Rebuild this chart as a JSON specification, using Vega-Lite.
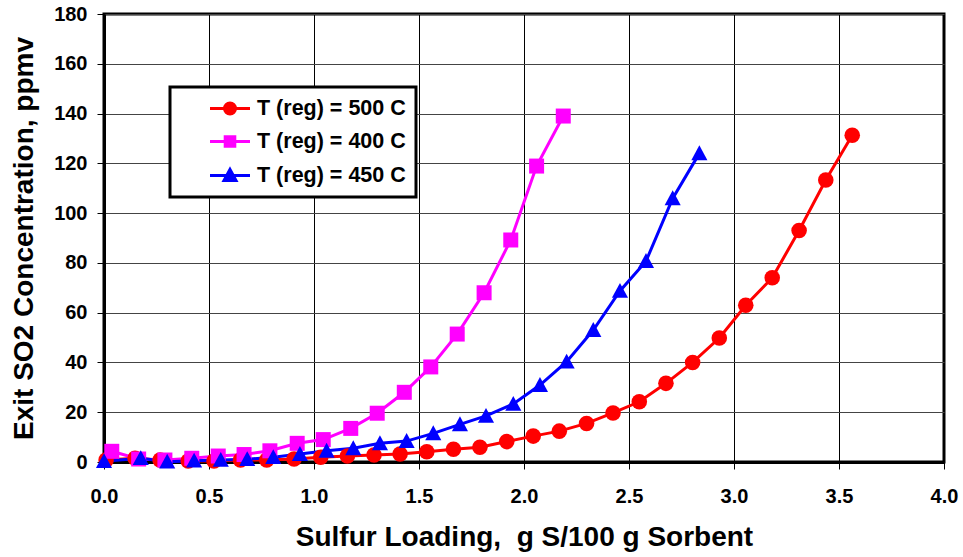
{
  "$schema": "https://vega.github.io/schema/vega-lite/v6.json",
  "width": 840,
  "height": 448,
  "autosize": "none",
  "padding": {"left": 104, "top": 14, "right": 19, "bottom": 95},
  "background": "white",
  "config": {"view": {"stroke": "black", "strokeWidth": 3}, "font": "Liberation Sans"},
  "datasets": {
    "pts": [
      {"s": "T (reg) = 500 C", "x": 0.01, "y": 0.8},
      {"s": "T (reg) = 500 C", "x": 0.148, "y": 1.5},
      {"s": "T (reg) = 500 C", "x": 0.267, "y": 0.8},
      {"s": "T (reg) = 500 C", "x": 0.401, "y": 0.4},
      {"s": "T (reg) = 500 C", "x": 0.524, "y": 0.4},
      {"s": "T (reg) = 500 C", "x": 0.65, "y": 0.8},
      {"s": "T (reg) = 500 C", "x": 0.775, "y": 0.8},
      {"s": "T (reg) = 500 C", "x": 0.905, "y": 1.2},
      {"s": "T (reg) = 500 C", "x": 1.032, "y": 1.9},
      {"s": "T (reg) = 500 C", "x": 1.159, "y": 2.4},
      {"s": "T (reg) = 500 C", "x": 1.286, "y": 2.8},
      {"s": "T (reg) = 500 C", "x": 1.41, "y": 3.2},
      {"s": "T (reg) = 500 C", "x": 1.537, "y": 4.1},
      {"s": "T (reg) = 500 C", "x": 1.664, "y": 5.1},
      {"s": "T (reg) = 500 C", "x": 1.79, "y": 5.9},
      {"s": "T (reg) = 500 C", "x": 1.918, "y": 8.2},
      {"s": "T (reg) = 500 C", "x": 2.044, "y": 10.4},
      {"s": "T (reg) = 500 C", "x": 2.168, "y": 12.4},
      {"s": "T (reg) = 500 C", "x": 2.298, "y": 15.5},
      {"s": "T (reg) = 500 C", "x": 2.424, "y": 19.7},
      {"s": "T (reg) = 500 C", "x": 2.549, "y": 24.2},
      {"s": "T (reg) = 500 C", "x": 2.676, "y": 31.6},
      {"s": "T (reg) = 500 C", "x": 2.803, "y": 40},
      {"s": "T (reg) = 500 C", "x": 2.93, "y": 49.8},
      {"s": "T (reg) = 500 C", "x": 3.056, "y": 63},
      {"s": "T (reg) = 500 C", "x": 3.182, "y": 74},
      {"s": "T (reg) = 500 C", "x": 3.31, "y": 93},
      {"s": "T (reg) = 500 C", "x": 3.437, "y": 113.3},
      {"s": "T (reg) = 500 C", "x": 3.563, "y": 131.3},
      {"s": "T (reg) = 400 C", "x": 0.037, "y": 4.3},
      {"s": "T (reg) = 400 C", "x": 0.165, "y": 1.2},
      {"s": "T (reg) = 400 C", "x": 0.29, "y": 0.8},
      {"s": "T (reg) = 400 C", "x": 0.418, "y": 1.5},
      {"s": "T (reg) = 400 C", "x": 0.544, "y": 2.4},
      {"s": "T (reg) = 400 C", "x": 0.667, "y": 3.0},
      {"s": "T (reg) = 400 C", "x": 0.79, "y": 4.5},
      {"s": "T (reg) = 400 C", "x": 0.92, "y": 7.5},
      {"s": "T (reg) = 400 C", "x": 1.044, "y": 9.0},
      {"s": "T (reg) = 400 C", "x": 1.175, "y": 13.5},
      {"s": "T (reg) = 400 C", "x": 1.301, "y": 19.6},
      {"s": "T (reg) = 400 C", "x": 1.43, "y": 28},
      {"s": "T (reg) = 400 C", "x": 1.556, "y": 38.2},
      {"s": "T (reg) = 400 C", "x": 1.682, "y": 51.4},
      {"s": "T (reg) = 400 C", "x": 1.81, "y": 68},
      {"s": "T (reg) = 400 C", "x": 1.937, "y": 89.2},
      {"s": "T (reg) = 400 C", "x": 2.06, "y": 118.9},
      {"s": "T (reg) = 400 C", "x": 2.187, "y": 139},
      {"s": "T (reg) = 450 C", "x": 0.0, "y": 0.3},
      {"s": "T (reg) = 450 C", "x": 0.175, "y": 1.5},
      {"s": "T (reg) = 450 C", "x": 0.301, "y": 0.1},
      {"s": "T (reg) = 450 C", "x": 0.429, "y": 0.5},
      {"s": "T (reg) = 450 C", "x": 0.556, "y": 0.8},
      {"s": "T (reg) = 450 C", "x": 0.682, "y": 1.1},
      {"s": "T (reg) = 450 C", "x": 0.806, "y": 1.9},
      {"s": "T (reg) = 450 C", "x": 0.933, "y": 3.2},
      {"s": "T (reg) = 450 C", "x": 1.06, "y": 4.5},
      {"s": "T (reg) = 450 C", "x": 1.187, "y": 5.5},
      {"s": "T (reg) = 450 C", "x": 1.314, "y": 7.5},
      {"s": "T (reg) = 450 C", "x": 1.441, "y": 8.4},
      {"s": "T (reg) = 450 C", "x": 1.568, "y": 11.5},
      {"s": "T (reg) = 450 C", "x": 1.695, "y": 15.1},
      {"s": "T (reg) = 450 C", "x": 1.819, "y": 18.5},
      {"s": "T (reg) = 450 C", "x": 1.949, "y": 23.3},
      {"s": "T (reg) = 450 C", "x": 2.076, "y": 30.9},
      {"s": "T (reg) = 450 C", "x": 2.203, "y": 40.3},
      {"s": "T (reg) = 450 C", "x": 2.33, "y": 53},
      {"s": "T (reg) = 450 C", "x": 2.457, "y": 68.7},
      {"s": "T (reg) = 450 C", "x": 2.581, "y": 80.7},
      {"s": "T (reg) = 450 C", "x": 2.708, "y": 105.9},
      {"s": "T (reg) = 450 C", "x": 2.835, "y": 124}
    ]
  },
  "data": {"name": "pts"},
  "encoding": {
    "x": {
      "field": "x", "type": "quantitative",
      "scale": {"domain": [0, 4], "nice": false, "zero": false},
      "axis": {
        "values": [0, 0.5, 1, 1.5, 2, 2.5, 3, 3.5, 4],
        "format": ".1f",
        "title": "Sulfur Loading,\u00a0 g S/100 g Sorbent",
        "grid": true, "gridColor": "#000000", "gridWidth": 1, "gridOpacity": 1,
        "domainColor": "black", "domainWidth": 3,
        "tickColor": "black", "tickSize": 7, "tickWidth": 1,
        "labelFont": "Liberation Sans", "labelFontSize": 20, "labelFontWeight": "bold", "labelColor": "black",
        "labelBaseline": "alphabetic", "labelPadding": 33, "labelFlush": false, "labelOverlap": false,
        "titleFont": "Liberation Sans", "titleFontSize": 28, "titleFontWeight": "bold", "titleColor": "black",
        "titleBaseline": "alphabetic", "titleY": 83, "titleX": 420, "titleAlign": "center"
      }
    },
    "y": {
      "field": "y", "type": "quantitative",
      "scale": {"domain": [0, 180], "nice": false},
      "axis": {
        "values": [0, 20, 40, 60, 80, 100, 120, 140, 160, 180],
        "title": "Exit SO2 Concentration, ppmv",
        "grid": true, "gridColor": "#444444", "gridWidth": 1, "gridOpacity": 1,
        "domainColor": "black", "domainWidth": 3,
        "tickColor": "black", "tickSize": 7, "tickWidth": 1,
        "labelFont": "Liberation Sans", "labelFontSize": 20, "labelFontWeight": "bold", "labelColor": "black",
        "labelPadding": 10, "labelFlush": false, "labelOverlap": false,
        "titleFont": "Liberation Sans", "titleFontSize": 28, "titleFontWeight": "bold", "titleColor": "black",
        "titleBaseline": "alphabetic", "titleX": -72, "titleY": 224, "titleAlign": "center", "titleAngle": -90
      }
    },
    "color": {
      "field": "s", "type": "nominal",
      "scale": {"domain": ["T (reg) = 500 C", "T (reg) = 400 C", "T (reg) = 450 C"], "range": ["#ff0000", "#ff00ff", "#0000ff"]},
      "legend": {
        "title": null, "orient": "none", "legendX": 66, "legendY": 73,
        "padding": 10, "rowPadding": 10,
        "labelFont": "Liberation Sans", "labelFontSize": 21.5, "labelFontWeight": "bold", "labelColor": "black", "labelLimit": 400,
        "symbolSize": 400, "symbolOffset": 38.5, "labelOffset": 15.5, "symbolStrokeWidth": 3,
        "fillColor": "white", "strokeColor": "black",
        "encode": {
          "legend": {"update": {"strokeWidth": {"value": 3}}},
          "symbols": {"update": {
            "shape": {"signal": "datum.value === 'T (reg) = 500 C' ? 'M-2,0H2M0.55,0A0.55,0.55 0 1,1 -0.55,0A0.55,0.55 0 1,1 0.55,0Z' : datum.value === 'T (reg) = 400 C' ? 'M-2,0H2M-0.48,-0.48H0.48V0.48H-0.48Z' : 'M-2,0H2M0,-0.6L0.6,0.5H-0.6Z'"},
            "fill": {"signal": "datum.value === 'T (reg) = 500 C' ? '#ff0000' : datum.value === 'T (reg) = 400 C' ? '#ff00ff' : '#0000ff'"},
            "stroke": {"signal": "datum.value === 'T (reg) = 500 C' ? '#ff0000' : datum.value === 'T (reg) = 400 C' ? '#ff00ff' : '#0000ff'"},
            "strokeWidth": {"value": 3},
            "opacity": {"value": 1}
          }}
        }
      }
    }
  },
  "layer": [
    {"mark": {"type": "line", "strokeWidth": 3}, "encoding": {}},
    {
      "mark": {"type": "point", "filled": true, "opacity": 1},
      "encoding": {
        "shape": {"field": "s", "type": "nominal", "scale": {"domain": ["T (reg) = 400 C", "T (reg) = 450 C", "T (reg) = 500 C"], "range": ["square", "M0,-1L1,0.85H-1Z", "circle"]}, "legend": null},
        "size": {"field": "s", "type": "nominal", "scale": {"domain": ["T (reg) = 450 C", "T (reg) = 500 C", "T (reg) = 400 C"], "range": [260, 225, 160]}, "legend": null}
      }
    }
  ]
}
